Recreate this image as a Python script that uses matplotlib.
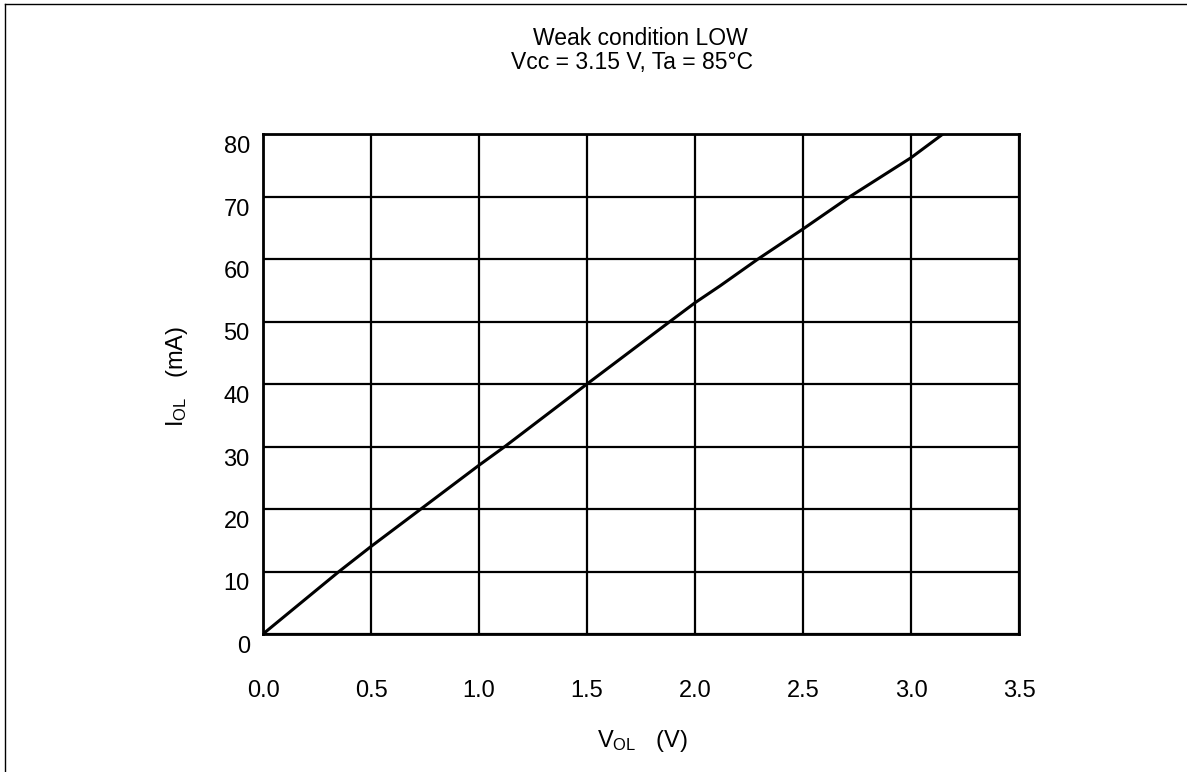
import numpy as np
import matplotlib
matplotlib.use("Agg")
import matplotlib.pyplot as plt
from matplotlib.lines import Line2D
from matplotlib.transforms import ScaledTranslation

plt.rcParams["font.family"] = "Liberation Sans"
plt.rcParams["mathtext.fontset"] = "custom"
plt.rcParams["mathtext.rm"] = "Liberation Sans"
plt.rcParams["mathtext.it"] = "Liberation Sans"

# curve
vol = [0.0, 0.352, 0.5, 0.731, 1.0, 1.12, 1.5, 1.884, 2.0, 2.116, 2.292, 2.5, 2.718, 3.0, 3.148]
iol = [0.0, 10.0, 14.0, 20.0, 27.0, 30.0, 40.0, 50.0, 53.0, 55.7, 60.0, 64.8, 70.0, 76.2, 80.0]

xticks = [0.0, 0.5, 1.0, 1.5, 2.0, 2.5, 3.0, 3.5]
yticks = [0, 10, 20, 30, 40, 50, 60, 70, 80]

W, H = 1187, 772
fig = plt.figure(figsize=(W/100, H/100), dpi=100)
ax = fig.add_axes([263/W, 1-634/H, (1019-263)/W, (634-134)/H])

ax.plot(vol, iol, color="black", lw=2.2, solid_capstyle="butt")
ax.set_xlim(0, 3.5)
ax.set_ylim(0, 80)
ax.set_xticks(xticks)
ax.set_xticklabels(["%.1f" % v for v in xticks])
ax.set_yticks(yticks)
ax.grid(True, color="black", lw=1.6)
for s in ax.spines.values():
    s.set_linewidth(2)
ax.tick_params(length=0, labelsize=17, colors="black")
ax.tick_params(axis="x", pad=33)
ax.tick_params(axis="y", pad=9.5)
# y labels sit just under their grid line
shift = ScaledTranslation(0, -2/100, fig.dpi_scale_trans)
for lab in ax.get_yticklabels():
    lab.set_va("top")
    lab.set_transform(lab.get_transform() + shift)

fig.text(642/W, 1-747/H, r"V$_{\rm OL}$   (V)", ha="center", va="baseline", fontsize=17)
fig.text(177/W, 1-377/H, r"I$_{\rm OL}$   (mA)", ha="center", va="center", rotation=90, fontsize=17)

fig.text(640/W, 1-45/H, "Weak condition LOW", ha="center", va="baseline", fontsize=16.5)
fig.text(632/W, 1-69/H, "Vcc = 3.15 V, Ta = 85\u00b0C", ha="center", va="baseline", fontsize=16.5)

# outer frame (left and top edges)
fig.add_artist(Line2D([5/W, 5/W], [0, 1-4/H], color="black", lw=1, transform=fig.transFigure))
fig.add_artist(Line2D([5/W, 1], [1-4/H, 1-4/H], color="black", lw=1, transform=fig.transFigure))

fig.savefig("out.png", dpi=100)
